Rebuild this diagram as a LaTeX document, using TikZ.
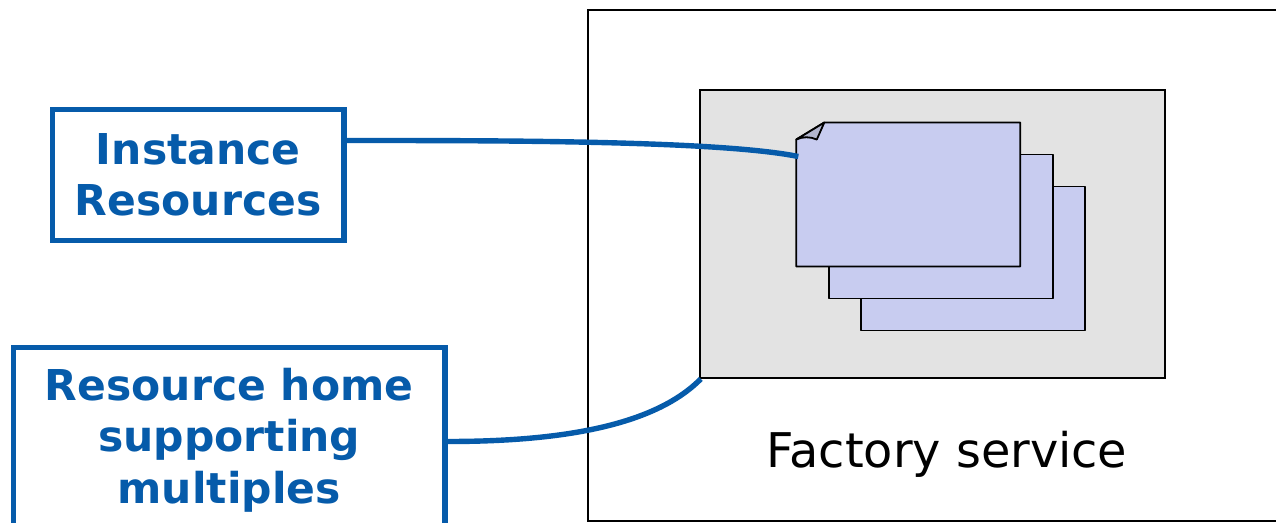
\documentclass[tikz,border=0pt]{standalone}
\usepackage{fontspec}
\setmainfont{DejaVu Sans}
\definecolor{bluel}{HTML}{065BAA}
\definecolor{grayb}{HTML}{E3E3E3}
\definecolor{lav}{HTML}{C8CCF0}
\tikzset{
 x=1pt,y=-1pt,
 labelbox/.style={draw=bluel,line width=5.4pt,fill=white,inner sep=0pt,text=bluel,font=\bfseries\fontsize{42.5}{51.5}\selectfont,align=center},
 plainbox/.style={draw=black,line width=2.4pt,inner sep=0pt},
 sheet/.style={draw=black,line width=1.8pt,fill=lav,inner sep=0pt,line join=round},
 link/.style={draw=bluel,line width=5.4pt}
}
\begin{document}
\begin{tikzpicture}
\useasboundingbox (1.2,1.5) rectangle (1277.2,523.5);
\begin{scope}
\clip (1.2,1.5) rectangle (1277.2,523.5);
\node[plainbox,minimum width=690pt,minimum height=511pt,anchor=north west] (factory) at (588,10) {};
\node[plainbox,fill=grayb,minimum width=465pt,minimum height=288pt,anchor=north west] (home) at (700,90) {};
\node[sheet,minimum width=224pt,minimum height=144pt,anchor=north west] (s3) at (861,187) {};
\node[sheet,minimum width=224pt,minimum height=144pt,anchor=north west] (s2) at (829,155) {};
\draw[sheet] (797.5,141) -- (825.5,124) -- (1021.5,124) -- (1021.5,268) -- (797.5,268) -- cycle;
\coordinate (corner) at (799.5,158);
\draw[sheet,fill=lav!70!gray] (797.5,141) -- (825.5,124) -- (818,141) .. controls (811,138) and (804,138) .. cycle;
\node[font=\fontsize{47.8}{56}\selectfont] (flabel) at (948,456) {Factory service};
\node[labelbox,minimum width=291.5pt,minimum height=131pt,anchor=north west] (inst) at (51,108) {Instance\\Resources};
\node[labelbox,minimum width=431.5pt,minimum height=186pt,anchor=north west] (multi) at (12,346) {Resource home\\supporting\\multiples};
\draw[link] (inst.east |- 0,142) .. controls (500,142) and (720,142) .. (corner);
\draw[link] (multi.east |- 0,443) .. controls (560,443) and (655,428) .. ([xshift=2pt]home.south west);
\end{scope}
\end{tikzpicture}
\end{document}
